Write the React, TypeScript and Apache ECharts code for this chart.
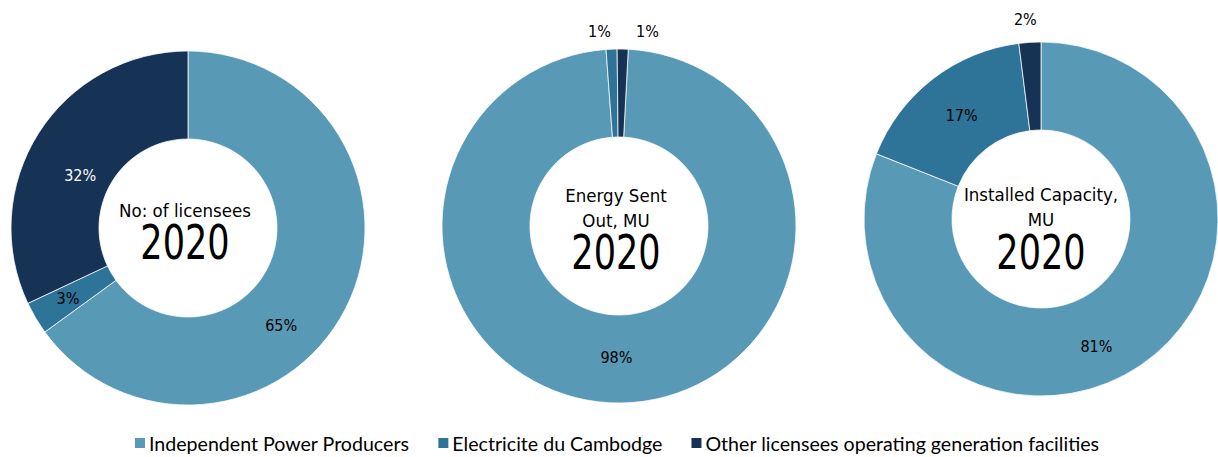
import React, { useEffect, useRef } from "react";
import * as echarts from "echarts";

const categories = [
  "Independent Power Producers",
  "Electricite du Cambodge",
  "Other licensees operating generation facilities",
];
const licenseesShare = [65, 3, 32];
const energyShare = [98, 1, 1];
const capacityShare = [81, 17, 2];
const centerTitles = ["No: of licensees", "Energy Sent\nOut, MU", "Installed Capacity,\nMU"];
const yearLabel = "2020";

const COLORS = ["#5899B5", "#2E7398", "#163255"];
const TXT_FONT = "'DejaVu Sans Condensed', 'DejaVu Sans', sans-serif";

export default function App() {
  const ref = useRef<HTMLDivElement>(null);
  useEffect(() => {
    document.body.style.margin = "0";
    const chart = echarts.init(ref.current!, null, { renderer: "svg" });

    const pies = [
      {
        values: licenseesShare,
        center: [188, 228],
        startAngle: 90,
        positions: ["inside", "inside", "inside"],
        labelColors: ["#000", "#000", "#fff"],
        offsets: [[-28, 36], [-3, 1], [7, 20]],
        textDx: -3,
        titleDy: -18,
        yearDy: 15,
      },
      {
        values: energyShare,
        center: [619, 226],
        startAngle: 87,
        positions: ["inside", "outside", "outside"],
        labelColors: ["#000", "#000", "#000"],
        offsets: [[-4, -4], [5, 0], [8, 0]],
        textDx: -3,
        titleDy: -18.5,
        yearDy: 27,
      },
      {
        values: capacityShare,
        center: [1041, 219],
        startAngle: 90,
        positions: ["inside", "inside", "outside"],
        labelColors: ["#000", "#000", "#000"],
        offsets: [[-21, 15], [4, 4], [13, -5]],
        textDx: 0,
        titleDy: -12,
        yearDy: 34,
      },
    ];

    const series = pies.map((p, si) => ({
      type: "pie",
      name: centerTitles[si],
      center: p.center,
      radius: [89, 177],
      startAngle: p.startAngle,
      clockwise: true,
      avoidLabelOverlap: false,
      itemStyle: { borderColor: "#ffffff", borderWidth: 0.75 },
      labelLine: { show: false, length: 18, length2: 0 },
      emphasis: { disabled: true },
      labelLayout: (params: any) => {
        const o = p.offsets[params.dataIndex] || [0, 0];
        return { dx: o[0], dy: o[1] };
      },
      data: categories.map((name, i) => ({
        name,
        value: p.values[i],
        itemStyle: { color: COLORS[i] },
        label: {
          show: true,
          position: p.positions[i],
          formatter: "{c}%",
          color: p.labelColors[i],
          fontFamily: TXT_FONT,
          fontSize: 16,
        },
      })),
    }));

    const graphics: any[] = [];
    pies.forEach((p, si) => {
      graphics.push({
        type: "text",
        x: p.center[0] + p.textDx,
        y: p.center[1] + p.titleDy,
        style: {
          text: centerTitles[si],
          fill: "#000",
          font: `18.5px ${TXT_FONT}`,
          align: "center",
          verticalAlign: "middle",
          lineHeight: 25,
        },
      });
      graphics.push({
        type: "text",
        x: p.center[0] + p.textDx,
        y: p.center[1] + p.yearDy,
        scaleY: 1.22,
        style: {
          text: yearLabel,
          fill: "#000",
          font: `39px ${TXT_FONT}`,
          align: "center",
          verticalAlign: "middle",
        },
      });
    });

    chart.setOption({
      animation: false,
      legend: {
        data: categories,
        left: 133,
        top: 433,
        padding: 0,
        icon: "rect",
        itemWidth: 12,
        itemHeight: 12,
        itemGap: 27,
        selectedMode: false,
        textStyle: { fontFamily: "Lato, sans-serif", fontSize: 19.6, color: "#000", padding: [0, 0, 0, -2] },
      },
      series,
      graphic: graphics,
    });
    return () => chart.dispose();
  }, []);
  return <div ref={ref} style={{ width: 1218, height: 457 }} />;
}
